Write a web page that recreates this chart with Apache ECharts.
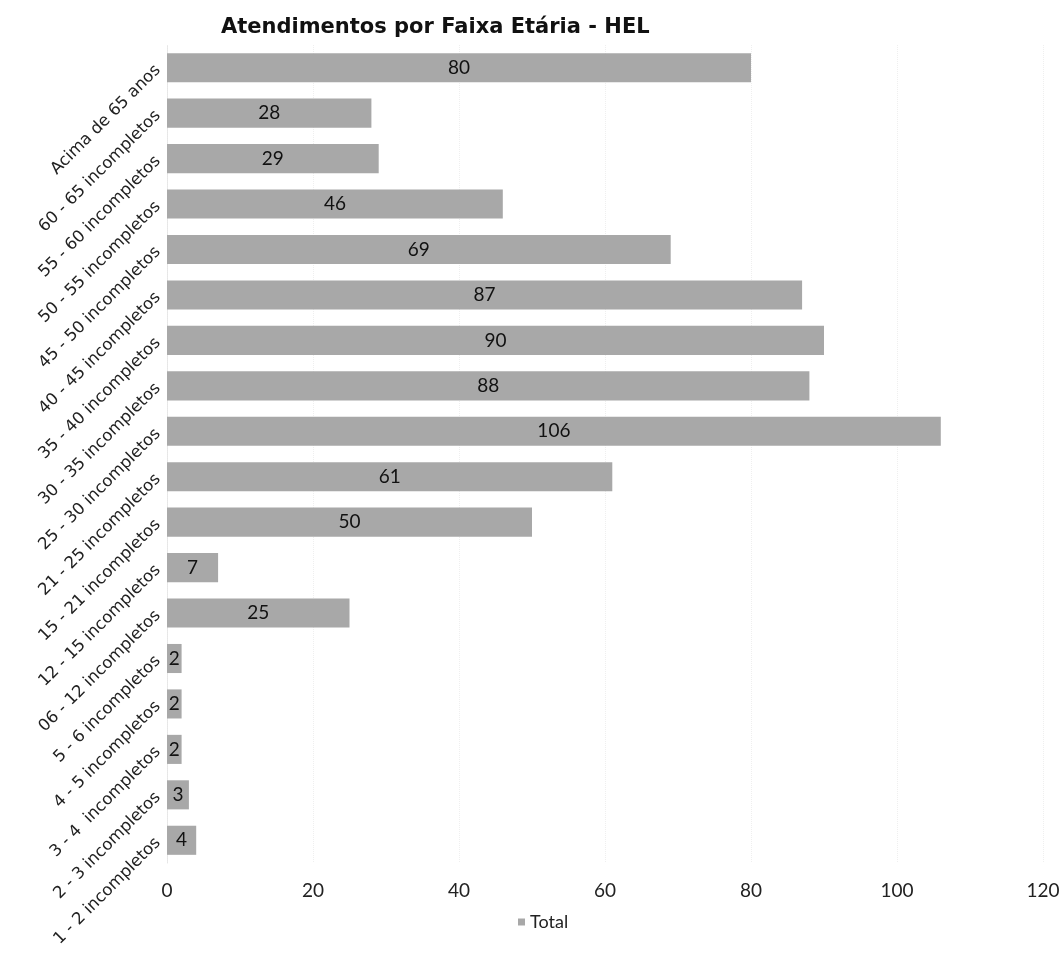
<!DOCTYPE html>
<html>
<head>
<meta charset="utf-8">
<script src="https://cdn.jsdelivr.net/npm/echarts@6/dist/echarts.min.js"></script>
<style>html,body{margin:0;padding:0;background:#fff}#c{width:1063px;height:954px}</style>
</head>
<body>
<div id="c"></div>
<script>
const categories = ["1 - 2 incompletos","2 - 3 incompletos","3 - 4  incompletos","4 - 5 incompletos","5 - 6 incompletos","06 - 12 incompletos","12 - 15 incompletos","15 - 21 incompletos","21 - 25 incompletos","25 - 30 incompletos","30 - 35 incompletos","35 - 40 incompletos","40 - 45 incompletos","45 - 50 incompletos","50 - 55 incompletos","55 - 60 incompletos","60 - 65 incompletos","Acima de 65 anos"];
const totals = [4,3,2,2,2,25,7,50,61,106,88,90,87,69,46,29,28,80];
const xTicks = [0,20,40,60,80,100,120];

const chart = echarts.init(document.getElementById('c'));
chart.setOption({
  backgroundColor: '#ffffff',
  textStyle: { fontFamily: 'Lato' },
  title: {
    text: 'Atendimentos por Faixa Etária - HEL',
    left: 216, top: 12,
    textStyle: { fontFamily: 'DejaVu Sans', fontWeight: 'bold', fontSize: 21, color: '#111' }
  },
  legend: {
    data: ['Total'], bottom: 18, left: 513,
    itemWidth: 7, itemHeight: 7, itemGap: 7, icon: 'rect',
    textStyle: { fontFamily: 'Lato', fontSize: 18, color: '#222' }
  },
  grid: { left: 167, right: 20, top: 45, bottom: 91, containLabel: false },
  xAxis: {
    type: 'value', min: xTicks[0], max: xTicks[xTicks.length-1], interval: 20,
    axisLine: { show: false }, axisTick: { show: false },
    axisLabel: { fontFamily: 'Lato', fontSize: 19, color: '#222', margin: 18 },
    splitLine: { show: true, lineStyle: { color: '#efefef', type: 'dotted', width: 1 } }
  },
  yAxis: {
    type: 'category', data: categories,
    axisLine: { show: true, lineStyle: { color: '#e6e6e6', type: 'dotted' } },
    axisTick: { show: false },
    axisLabel: { fontFamily: 'DejaVu Sans', fontSize: 16.5, color: '#222', rotate: 45, margin: 9 }
  },
  series: [{
    name: 'Total', type: 'bar', data: totals,
    barCategoryGap: '36%',
    itemStyle: { color: '#a8a8a8' },
    label: { show: true, position: 'inside', fontFamily: 'Lato', fontSize: 19, color: '#111' }
  }]
});
</script>
</body>
</html>
